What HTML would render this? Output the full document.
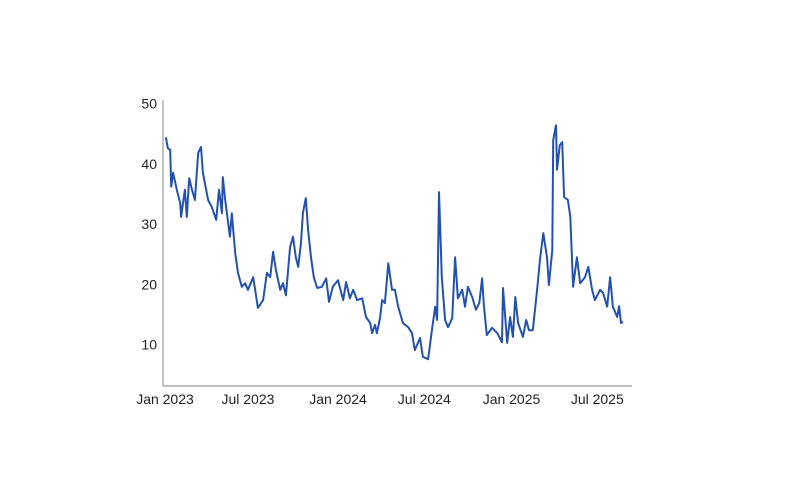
<!DOCTYPE html>
<html><head><meta charset="utf-8"><style>
body{margin:0;background:#fff;}
svg text{font-family:"Liberation Sans",Arial,sans-serif;font-size:14px;fill:#222;}
</style></head><body>
<svg id="chart" width="794" height="494" viewBox="0 0 794 494" xmlns="http://www.w3.org/2000/svg">
<line x1="163" y1="100" x2="163" y2="386" stroke="#9a9a9a" stroke-width="1.2"/>
<line x1="163" y1="386" x2="632" y2="386" stroke="#9a9a9a" stroke-width="1.2"/>
<g id="yticks"></g><g id="xticks"></g>
<path id="series" fill="none" stroke="#2451b0" stroke-width="2" stroke-linejoin="round"/>
</svg>
<script>
const days=[2,6,11,13,17,25,32,34,38,42,46,51,57,63,70,76,80,91,99,108,114,120,122,127,137,141,148,154,162,169,175,186,196,207,215,222,228,234,243,249,255,264,270,276,281,287,291,297,302,308,314,321,331,340,346,354,365,376,382,390,397,405,416,424,433,437,443,447,454,458,464,471,479,485,492,502,513,521,527,538,544,555,563,570,574,578,584,591,597,606,612,618,627,633,639,648,656,663,669,673,679,690,701,711,713,722,728,734,739,745,755,762,768,776,785,791,798,806,810,817,819,825,827,833,838,842,850,855,861,869,876,886,893,901,907,918,924,933,939,945,954,958,962,966];
const values=[44.4,42.6,42.3,36.2,38.5,35.7,33.5,31.2,33.5,35.7,31.2,37.6,35.7,34,41.8,42.8,38.5,34,32.8,30.7,35.7,31.8,37.8,34,27.9,31.8,25.2,21.9,19.6,20.2,19.1,21.2,16.1,17.4,21.9,21.2,25.4,22.4,19.1,20.2,18.2,26.2,27.9,24.5,22.9,26.9,31.8,34.3,29,24.5,21.2,19.4,19.6,21,17.1,19.6,20.7,17.4,20.4,17.7,19.1,17.4,17.7,14.6,13.6,11.9,13.3,11.9,14.6,17.4,16.9,23.5,19.1,19.1,16.3,13.6,12.9,11.9,9.1,11.1,8,7.6,12.4,16.3,14.1,35.3,21.2,14.1,12.9,14.4,24.5,17.7,19.1,16.3,19.6,17.9,15.8,16.9,21,16.3,11.6,12.8,11.9,10.4,19.4,10.3,14.6,11.3,17.9,13.6,11.3,14.1,12.4,12.4,19.1,24,28.5,24.5,19.9,25.7,43.9,46.4,39,43.1,43.6,34.5,34,31.2,19.6,24.5,20.2,21.2,22.9,19.1,17.4,19.1,18.6,16.3,21.2,16.3,14.6,16.4,13.6,13.8];
const yTicks=[10,20,30,40,50];
const xTickLabels=["Jan 2023","Jul 2023","Jan 2024","Jul 2024","Jan 2025","Jul 2025"];
const xTickDays=[0,175,365,547,731,912];
const NS="http://www.w3.org/2000/svg";
function xs(d){return 165+d*0.474;}
function ys(v){return 405-v*6.03;}
let d="";
for(let i=0;i<days.length;i++){d+=(i?"L":"M")+xs(days[i]).toFixed(1)+","+ys(values[i]).toFixed(1);}
document.getElementById("series").setAttribute("d",d);
const yg=document.getElementById("yticks");
yTicks.forEach(v=>{const t=document.createElementNS(NS,"text");


t.setAttribute("x",157);t.setAttribute("y",ys(v)+5);t.setAttribute("text-anchor","end");t.textContent=v;yg.appendChild(t);});
const xg=document.getElementById("xticks");
xTickLabels.forEach((l,i)=>{const t=document.createElementNS(NS,"text");


t.setAttribute("x",xs(xTickDays[i]));t.setAttribute("y",404);t.setAttribute("text-anchor","middle");t.textContent=l;xg.appendChild(t);});
</script>
</body></html>
